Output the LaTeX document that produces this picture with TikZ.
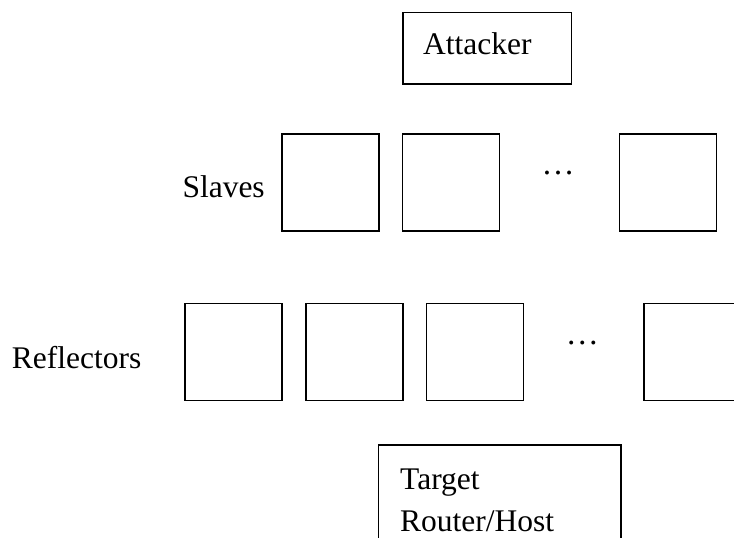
\documentclass[tikz,border=0pt]{standalone}
\usepackage{fontspec}
\setmainfont{Liberation Serif}
\begin{document}
\begin{tikzpicture}[x=1pt,y=-1pt,
  every node/.style={font=\fontsize{31.5}{36}\selectfont},
  hostbox/.style={draw=black, line width=1.6pt, rectangle, inner sep=0pt,
    minimum width=97pt, minimum height=97pt},
  txt/.style={inner sep=0pt, anchor=base west},
  gap/.style={inner sep=0pt, anchor=base, font=\fontsize{33}{36}\selectfont}]
\useasboundingbox (0,0) rectangle (734,538);
\clip (0,0) rectangle (734,538);

% attacker
\node[hostbox, minimum width=168.5pt, minimum height=71.5pt] (attacker) at (487.2,48.4) {};
\node[txt] (attackertext) at (423,54) {Attacker};

% slaves row
\node[txt] (slaveslabel) at (182.3,197.3) {Slaves};
\node[hostbox] (s1) at (330.4,182.7) {};
\node[hostbox] (s2) at (451.0,182.7) {};
\node[gap] (sdots) at (558,174.5) {…};
\node[hostbox] (s3) at (668.0,182.7) {};

% reflectors row
\node[txt] (reflabel) at (11.7,368.3) {Reflectors};
\node[hostbox] (r1) at (233.7,351.8) {};
\node[hostbox] (r2) at (354.2,351.8) {};
\node[hostbox] (r3) at (475.0,351.8) {};
\node[gap] (rdots) at (582.3,344) {…};
\node[hostbox] (r4) at (692.5,351.8) {};

% target
\node[hostbox, minimum width=242.4pt, minimum height=120pt] (target) at (499.5,505) {};
\node[txt] (targettext1) at (400,489.5) {Target};
\node[txt] (targettext2) at (400,531.5) {Router/Host};
\end{tikzpicture}
\end{document}
